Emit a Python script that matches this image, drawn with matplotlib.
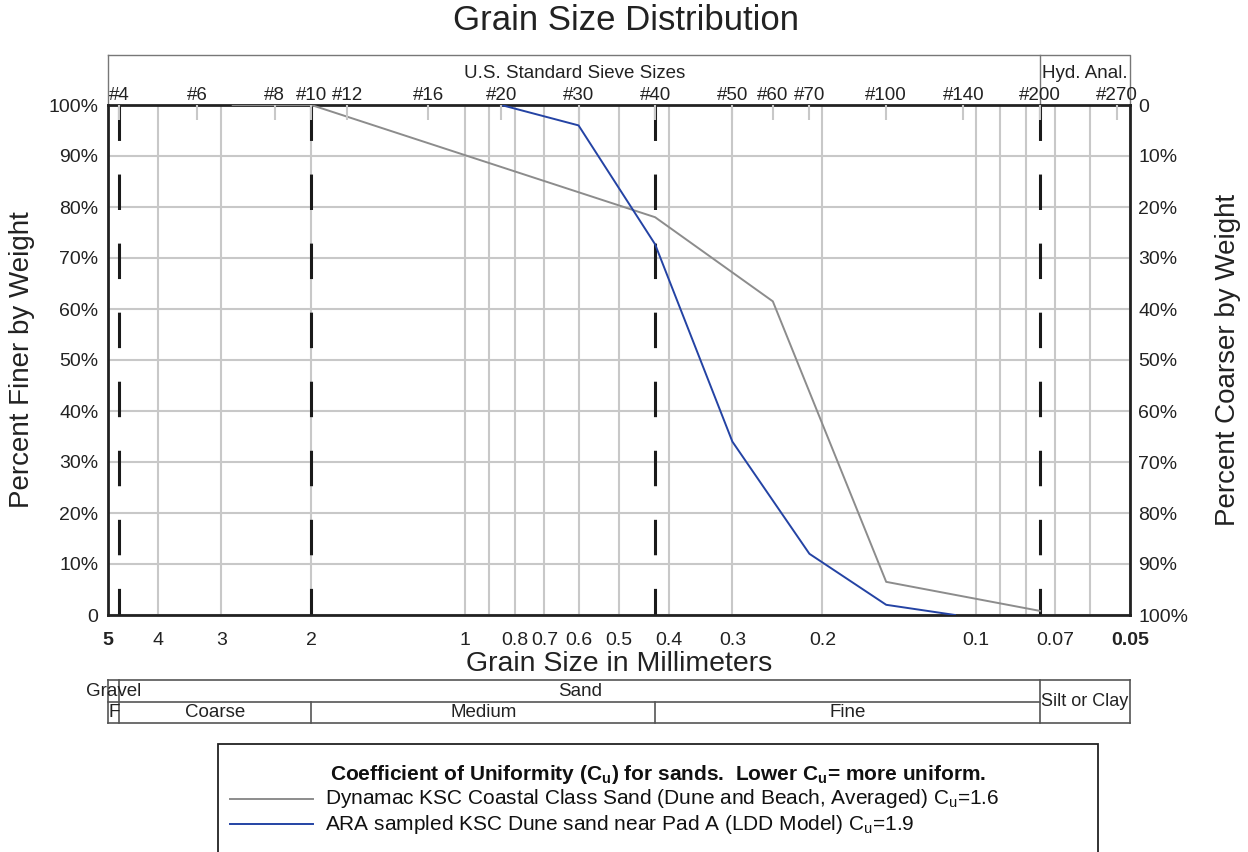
import matplotlib
matplotlib.use("Agg")
import matplotlib.pyplot as plt
import matplotlib.transforms as mtransforms
from matplotlib.lines import Line2D
from matplotlib.patches import Rectangle
from matplotlib.ticker import FixedLocator, NullLocator, NullFormatter

plt.rcParams['font.family'] = ['Liberation Sans', 'DejaVu Sans']
plt.rcParams['mathtext.fontset'] = 'custom'
plt.rcParams['mathtext.rm'] = 'Liberation Sans'
plt.rcParams['mathtext.bf'] = 'Liberation Sans:bold'

# ---- data ----
gray_mm = [2.85, 2.0, 0.425, 0.25, 0.15, 0.075]
gray_pct = [100, 100, 78, 61.5, 6.5, 0.8]
blue_mm = [0.85, 0.6, 0.425, 0.3, 0.212, 0.15, 0.11]
blue_pct = [100, 96, 72.7, 34, 12, 2, 0]

gray_label = "Dynamac KSC Coastal Class Sand (Dune and Beach, Averaged) C$_\\mathregular{u}$=1.6"
blue_label = "ARA sampled KSC Dune sand near Pad A (LDD Model) C$_\\mathregular{u}$=1.9"

sieve_mm = [4.75, 3.35, 2.36, 2.0, 1.7, 1.18, 0.85, 0.6, 0.425, 0.3, 0.25, 0.212, 0.15, 0.106, 0.075, 0.053]
sieve_labels = ['#4', '#6', '#8', '#10', '#12', '#16', '#20', '#30', '#40', '#50', '#60', '#70',
                '#100', '#140', '#200', '#270']
boundary_mm = [4.75, 2.0, 0.425, 0.075]

mm_major = [5, 4, 3, 2, 1, 0.8, 0.7, 0.6, 0.5, 0.4, 0.3, 0.2, 0.1, 0.07, 0.05]
mm_major_labels = ['5', '4', '3', '2', '1', '0.8', '0.7', '0.6', '0.5', '0.4', '0.3', '0.2', '0.1', '0.07', '0.05']
mm_minor = [0.9, 0.09, 0.08, 0.06]
pct_ticks = [0, 10, 20, 30, 40, 50, 60, 70, 80, 90, 100]
left_labels = ['0'] + [f'{p}%' for p in pct_ticks[1:]]
right_labels = ['0'] + [f'{p}%' for p in pct_ticks[1:]]

# classification table: (label, coarse end, fine end)
row1 = [('Gravel', 5, 4.75), ('Sand', 4.75, 0.075)]
row2 = [('F', 5, 4.75), ('Coarse', 4.75, 2.0), ('Medium', 2.0, 0.425), ('Fine', 0.425, 0.075)]
silt = ('Silt or Clay', 0.075, 0.05)

W, H = 1248, 852
def fx(p): return p / W
def fy(p): return 1 - p / H

fig = plt.figure(figsize=(12.48, 8.52), dpi=100)
ax = fig.add_axes([fx(108), fy(615), fx(1130 - 108), (615 - 105) / H])

grid_c = '#c8c8c8'
tick_fs = 14
ax.set_xscale('log')
ax.set_xlim(5, 0.05)
ax.set_ylim(0, 100)
ax.xaxis.set_major_locator(FixedLocator(mm_major))
ax.xaxis.set_minor_locator(FixedLocator(mm_minor))
ax.xaxis.set_minor_formatter(NullFormatter())
ax.set_xticklabels(mm_major_labels)
ax.set_yticks(pct_ticks)
ax.set_yticklabels(left_labels)
ax.grid(True, which='both', axis='x', color=grid_c, lw=1.5)
ax.grid(True, which='major', axis='y', color=grid_c, lw=1.5)
ax.set_axisbelow(True)
ax.tick_params(axis='x', which='both', length=0, pad=12, labelsize=tick_fs, labelcolor='#222222')
ax.tick_params(axis='y', length=0, pad=7, labelsize=tick_fs, labelcolor='#222222')
for lab in ax.get_xticklabels():
    if lab.get_text() in ('5', '0.05'):
        lab.set_fontweight('bold')
for sp in ax.spines.values():
    sp.set_linewidth(2)
    sp.set_color('#222222')

# boundary dashed lines
for b in boundary_mm:
    ax.plot([b, b], [100, 0], color='#1a1a1a', lw=2.2, dash_capstyle='butt',
            linestyle=(0, (11.6, 11.0)), zorder=2)

l_gray, = ax.plot(gray_mm, gray_pct, color='#8c8c8c', lw=1.4, zorder=3, label=gray_label)
l_blue, = ax.plot(blue_mm, blue_pct, color='#2443a4', lw=1.4, zorder=3, label=blue_label)

# top sieve axis
axt = ax.twiny()
axt.set_xscale('log')
axt.set_xlim(5, 0.05)
axt.xaxis.set_major_locator(FixedLocator(sieve_mm))
axt.xaxis.set_minor_locator(NullLocator())
axt.set_xticklabels(sieve_labels)
axt.tick_params(axis='x', direction='in', length=11, width=1.5, color='#c8c8c8', pad=1,
                labelsize=13.5, labelcolor='#222222')
for sp in axt.spines.values():
    sp.set_visible(False)

# right axis
axr = ax.twinx()
axr.set_ylim(100, 0)
axr.set_yticks(pct_ticks)
axr.set_yticklabels(right_labels)
axr.tick_params(axis='y', length=0, pad=6, labelsize=tick_fs, labelcolor='#222222')
for sp in axr.spines.values():
    sp.set_visible(False)

# top header box
box_top = (615 - 55) / 510
ax.plot([0, 1, 1], [box_top, box_top, 1], transform=ax.transAxes, color='#777777', lw=1, clip_on=False)
ax.plot([0, 0], [1, box_top], transform=ax.transAxes, color='#777777', lw=1, clip_on=False)
bt = mtransforms.blended_transform_factory(ax.transData, ax.transAxes)
ax.plot([0.075, 0.075], [1, box_top], transform=bt, color='#777777', lw=1, clip_on=False)
fig.text(fx(575), fy(73), 'U.S. Standard Sieve Sizes', ha='center', va='center', fontsize=13.5, color='#222222')
fig.text(fx(1085), fy(73), 'Hyd. Anal.', ha='center', va='center', fontsize=13.5, color='#222222')

# titles
fig.text(fx(626), fy(20), 'Grain Size Distribution', ha='center', va='center', fontsize=25, color='#222222')
fig.text(fx(619), fy(664), 'Grain Size in Millimeters', ha='center', va='center', fontsize=20.5, color='#222222')
fig.text(fx(22), fy(360), 'Percent Finer by Weight', ha='center', va='center', rotation=90, fontsize=20,
         color='#222222')
fig.text(fx(1228), fy(360), 'Percent Coarser by Weight', ha='center', va='center', rotation=90, fontsize=20,
         color='#222222')

# classification table
tt = mtransforms.blended_transform_factory(ax.transData, fig.transFigure)
tc = '#555555'
y1, y2, y3 = fy(680), fy(702), fy(723)
def tline(xs, ys):
    fig.add_artist(Line2D(xs, ys, transform=tt, color=tc, lw=1.2))
tline([5, 0.05], [y1, y1])
tline([5, 0.075], [y2, y2])
tline([5, 0.05], [y3, y3])
for v in [5, 4.75, 0.075, 0.05]:
    tline([v, v], [y1, y3])
for v in [2.0, 0.425]:
    tline([v, v], [y2, y3])
def gmid(a, b): return (a * b) ** 0.5
for lab, a, b in row1:
    fig.text(gmid(a, b), (y1 + y2) / 2, lab, transform=tt, ha='center', va='center', fontsize=13.5,
             color='#222222')
for lab, a, b in row2:
    fig.text(gmid(a, b), (y2 + y3) / 2, lab, transform=tt, ha='center', va='center', fontsize=13.5,
             color='#222222')
fig.text(gmid(silt[1], silt[2]), y2, silt[0], transform=tt, ha='center', va='center', fontsize=13,
         color='#222222')

# legend box
lsize = 15
fig.add_artist(Rectangle((fx(218), -0.02), fx(1098 - 218), fy(744) + 0.02, transform=fig.transFigure,
                         fill=False, edgecolor='#222222', lw=1.3))
fig.text(fx(658), fy(774), 'Coefficient of Uniformity (C$_\\mathbf{u}$) for sands.  Lower C$_\\mathbf{u}$= more uniform.',
         ha='center', va='center', fontsize=lsize, fontweight='bold', color='#111111')
for line, yy in [(l_gray, 799), (l_blue, 824)]:
    fig.add_artist(Line2D([fx(230), fx(313)], [fy(yy), fy(yy)], transform=fig.transFigure,
                          color=line.get_color(), lw=1.4))
    fig.text(fx(325), fy(yy), line.get_label(), ha='left', va='center', fontsize=lsize, color='#111111')

fig.savefig('out.png', dpi=100)
